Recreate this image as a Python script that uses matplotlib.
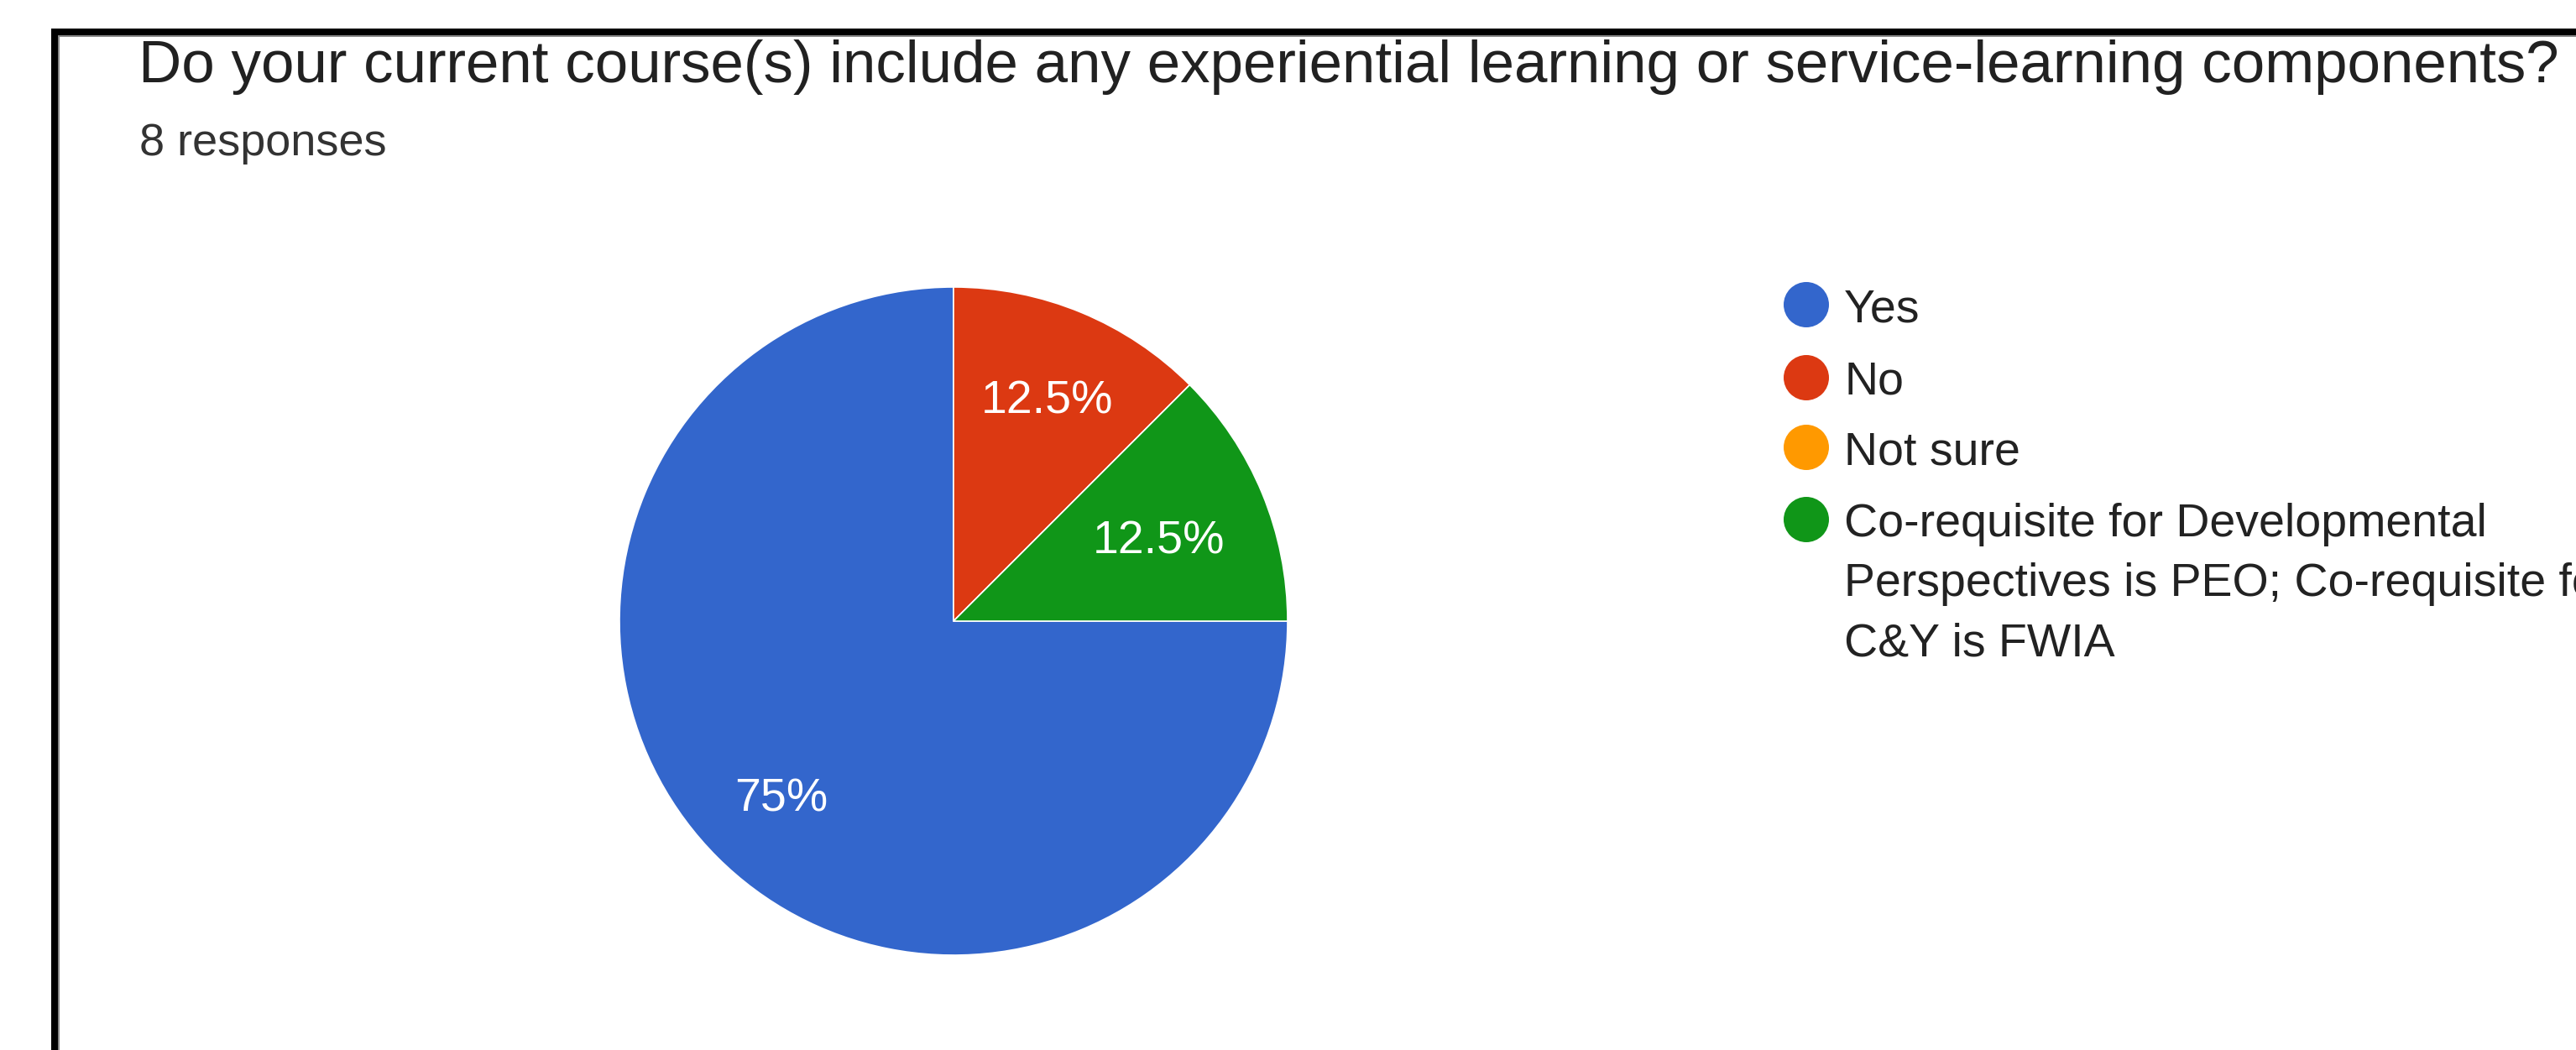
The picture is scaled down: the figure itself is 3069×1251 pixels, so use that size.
import matplotlib
matplotlib.use('Agg')
import matplotlib.pyplot as plt
from matplotlib.patches import Circle, Rectangle

# survey data
title = 'Do your current course(s) include any experiential learning or service-learning components?'
subtitle = '8 responses'
labels = ['Yes', 'No', 'Not sure',
          'Co-requisite for Developmental\nPerspectives is PEO; Co-requisite for\nC&Y is FWIA']
counts = [6, 1, 0, 1]
colors = ['#3366CC', '#DC3912', '#FF9900', '#109618']

W, H = 3069, 1251
DPI = 100
FONT = 'Liberation Sans'

fig = plt.figure(figsize=(W / DPI, H / DPI), dpi=DPI)
fig.patch.set_facecolor('white')

# overlay axes in pixel units for title, legend and frame
lay = fig.add_axes([0, 0, 1, 1])
lay.set_xlim(0, W)
lay.set_ylim(H, 0)
lay.axis('off')

# screenshot frame (left + top black edges)
lay.add_patch(Rectangle((61, 34), 8, H, color='black', lw=0))
lay.add_patch(Rectangle((61, 34), W, 8, color='black', lw=0))
lay.add_patch(Rectangle((69, 42), 1.5, H, color='#888888', lw=0))
lay.add_patch(Rectangle((69, 42), W, 1.5, color='#888888', lw=0))

lay.text(165, 98, title, fontsize=51, family=FONT, color='#212121', va='baseline', ha='left')
lay.text(166, 185, subtitle, fontsize=39, family=FONT, color='#333333', va='baseline', ha='left')

# pie, centre (1136, 740) px, radius ~398 px
cx, cy, r = 1136, 740, 398
ax = fig.add_axes([(cx - r) / W, (H - cy - r) / H, 2 * r / W, 2 * r / H])


def pct(p):
    return '' if p < 0.5 else ('%g%%' % round(p, 1))


wedges, texts, autotexts = ax.pie(counts, colors=colors, startangle=0, counterclock=False,
                                  autopct=pct, pctdistance=0.73,
                                  wedgeprops=dict(edgecolor='white', linewidth=1.2),
                                  textprops=dict(color='white', fontsize=40, family=FONT))
# nudge labels a little like the google chart does
for i, t in enumerate(autotexts):
    x, y = t.get_position()
    if i == 3:
        x, y = x * 0.91, y * 0.91
    t.set_position((x, y - 7.0 / r))
ax.set_xlim(-1, 1)
ax.set_ylim(-1, 1)
ax.set_aspect('equal')
ax.axis('off')

# legend
lx, tx = 2152, 2197
rows_y = [363, 450, 533, 619]
line_h = 71
for lab, col, y in zip(labels, colors, rows_y):
    lay.add_patch(Circle((lx, y), 27, color=col, lw=0))
    for i, line in enumerate(lab.split('\n')):
        lay.text(tx, y + 20 + i * line_h, line, fontsize=40, family=FONT, color='#222222',
                 va='baseline', ha='left')

fig.savefig('out.png', dpi=DPI)
